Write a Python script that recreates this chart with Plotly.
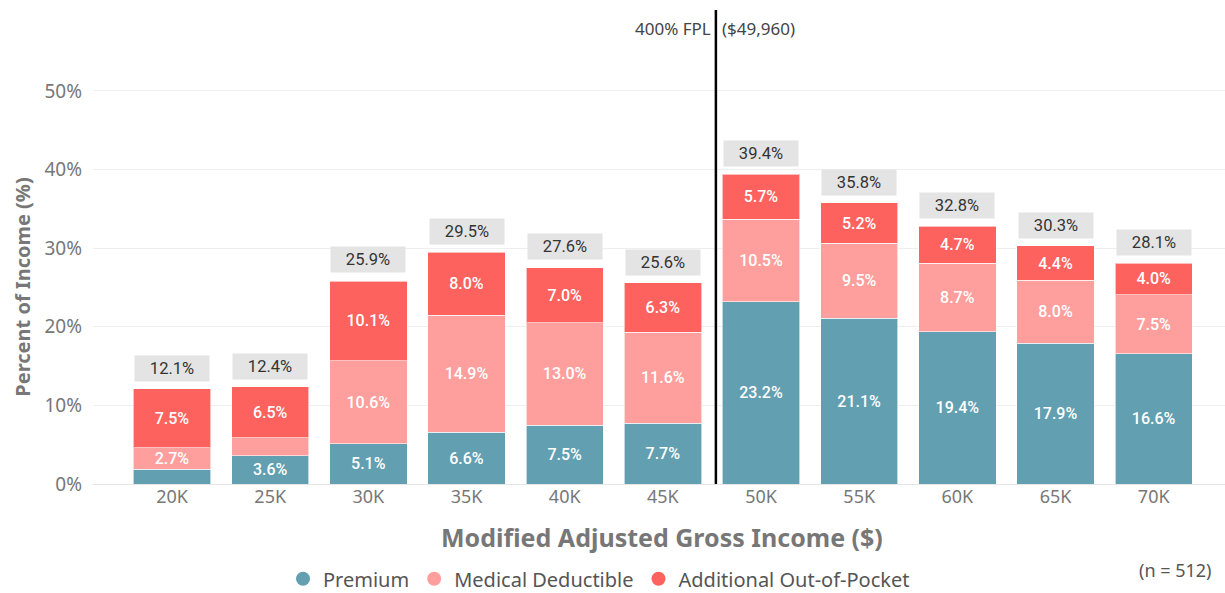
import plotly.graph_objects as go

income = ["20K", "25K", "30K", "35K", "40K", "45K", "50K", "55K", "60K", "65K", "70K"]
premium = [1.9, 3.6, 5.1, 6.6, 7.5, 7.7, 23.2, 21.1, 19.4, 17.9, 16.6]
deductible = [2.7, 2.3, 10.6, 14.9, 13.0, 11.6, 10.5, 9.5, 8.7, 8.0, 7.5]
out_of_pocket = [7.5, 6.5, 10.1, 8.0, 7.0, 6.3, 5.7, 5.2, 4.7, 4.4, 4.0]
totals = [12.1, 12.4, 25.9, 29.5, 27.6, 25.6, 39.4, 35.8, 32.8, 30.3, 28.1]
y_ticks = [0, 10, 20, 30, 40, 50]

fpl_position = 5.54  # between 45K and 50K
colors = {"Premium": "#629fb0", "Medical Deductible": "#fe9f9d", "Additional Out-of-Pocket": "#fd625e"}
grey = "#777777"
axis_font = "Noto Sans, Open Sans, sans-serif"
label_font = "Roboto, sans-serif"


def seg_text(vals):
    # small segments carry no label in the original
    return [f"{v:.1f}%" if v >= 2.5 else "" for v in vals]


fig = go.Figure()
series = [("Premium", premium), ("Medical Deductible", deductible),
          ("Additional Out-of-Pocket", out_of_pocket)]
for name, vals in series:
    fig.add_trace(go.Bar(
        x=income, y=vals, name=name, showlegend=False,
        marker=dict(color=colors[name], line=dict(color="rgba(255,255,255,0.6)", width=1)),
        text=seg_text(vals), textposition="inside", insidetextanchor="middle",
        textangle=0,
        textfont=dict(family=label_font, size=16, color="white", weight=500),
        hoverinfo="skip",
    ))
# round legend markers
for name, _ in series:
    fig.add_trace(go.Scatter(
        x=[None], y=[None], mode="markers", name=name,
        marker=dict(symbol="circle", size=14, color=colors[name]),
    ))

annotations = []
for i, t in enumerate(totals):
    annotations.append(dict(
        x=i, y=t, xref="x", yref="y", text=f"{t:.1f}%", showarrow=False,
        yanchor="bottom", yshift=7, bgcolor="#e4e4e4", width=72, height=23,
        font=dict(family=label_font, size=16.5, color="#333333"),
    ))

annotations += [
    dict(x=fpl_position, y=0.962, xref="x", yref="paper", text="400% FPL", showarrow=False,
         xanchor="right", yanchor="middle", xshift=-3,
         font=dict(family=axis_font, size=17, color="#444444")),
    dict(x=fpl_position, y=0.962, xref="x", yref="paper", text="($49,960)", showarrow=False,
         xanchor="left", yanchor="middle", xshift=4,
         font=dict(family=axis_font, size=17, color="#444444")),
    dict(x=-0.062, y=0.416, xref="paper", yref="paper", text="<b>Percent of Income (%)</b>",
         showarrow=False, textangle=-90, xanchor="center", yanchor="middle",
         font=dict(family=axis_font, size=20, color=grey)),
    dict(x=0.503, y=-0.112, xref="paper", yref="paper", text="<b>Modified Adjusted Gross Income ($)</b>",
         showarrow=False, xanchor="center", yanchor="middle",
         font=dict(family=axis_font, size=25, color=grey)),
    dict(x=0.989, y=-0.181, xref="paper", yref="paper", text="(n = 512)", showarrow=False,
         xanchor="right", yanchor="middle", font=dict(family=axis_font, size=18, color="#555555")),
]

fig.add_shape(type="line", xref="x", yref="paper", x0=fpl_position, x1=fpl_position,
              y0=0, y1=1.0, line=dict(color="black", width=2.5))

fig.update_layout(
    barmode="stack", bargap=0.212,
    width=1225, height=593,
    margin=dict(l=93, r=0, t=10, b=109, autoexpand=False),
    plot_bgcolor="white", paper_bgcolor="white",
    font=dict(family=axis_font, color=grey),
    annotations=annotations,
    uniformtext=dict(minsize=16, mode="show"),
    legend=dict(orientation="h", x=0.447, xanchor="center", y=-0.2, yanchor="middle",
                font=dict(family=axis_font, size=20, color="#555555"),
                itemwidth=30, traceorder="normal"),
    showlegend=True,
)
fig.update_xaxes(range=[-0.805, 10.726], tickfont=dict(size=18, color=grey), showgrid=False,
                 ticks="", showline=False, automargin=False)
fig.update_yaxes(range=[0, 60.3], tickmode="array", tickvals=y_ticks,
                 ticktext=[f"{v}%" for v in y_ticks],
                 tickfont=dict(size=19, color=grey), gridcolor="#eeeeee", gridwidth=1,
                 zeroline=True, zerolinecolor="#e6e6e6", zerolinewidth=1,
                 ticklabelstandoff=10, automargin=False)

# page body has a default 8px margin; drop it so the figure fills the window
fig.write_html("out.html", config={"displayModeBar": False},
               post_script="document.body.style.margin='0';")
